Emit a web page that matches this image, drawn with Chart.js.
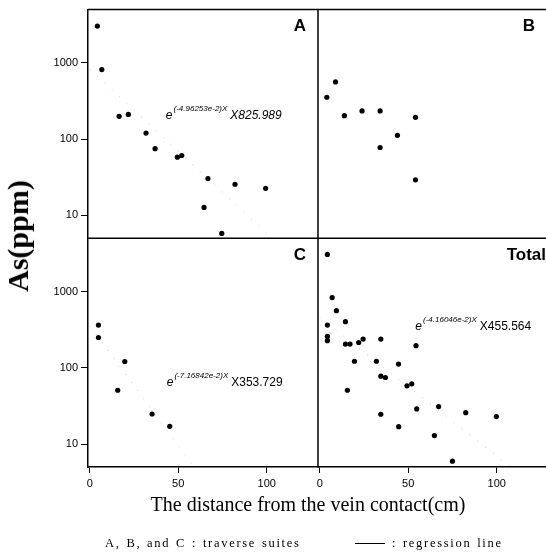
<!DOCTYPE html>
<html>
<head>
<meta charset="utf-8">
<script src="https://cdn.jsdelivr.net/npm/chart.js@4.4.1/dist/chart.umd.min.js"></script>
<style>
    body { margin: 0; background: #fff; }
    #wrap { position: relative; width: 546px; height: 555px; overflow: hidden; background: #fff; }
    #plot { position: absolute; left: 0; top: 0; }
    .yTitle {
        position: absolute; left: 18px; top: 236px;
        transform: translate(-50%, -50%) rotate(-90deg);
        font: bold 30px "Liberation Serif", "Times New Roman", serif;
        white-space: nowrap;
    }
    .xTitle {
        position: absolute; left: 308px; top: 504px;
        transform: translate(-50%, -50%);
        font: 20px "Liberation Serif", "Times New Roman", serif;
        white-space: nowrap;
    }
    .note {
        position: absolute; top: 543px;
        transform: translateY(-50%);
        font: 12.5px "Liberation Serif", "Times New Roman", serif;
        letter-spacing: 1.7px; word-spacing: 1px;
        white-space: nowrap;
    }
    .regKey { position: absolute; left: 355px; top: 543px; width: 30px; border-top: 1px solid #000; }
</style>
</head>
<body>
<div id="wrap">
    <canvas id="plot" width="552" height="555"></canvas>
    <div class="yTitle">As(ppm)</div>
    <div class="xTitle">The distance from the vein contact(cm)</div>
    <div class="note" style="left:105px">A, B, and C : traverse suites</div>
    <div class="regKey"></div>
    <div class="note" style="left:392px">: regression line</div>
</div>
<script>
// tick labels
const xTicks = [0, 50, 100];
const yTicks = [10, 100, 1000];

// traverse suite A
const distA = [4.3, 6.8, 16.6, 21.8, 31.8, 36.9, 49.5, 52, 66.8, 64.6, 74.6, 82.1, 99.4];
const asA = [3040, 816, 199, 211, 120, 75, 58, 61, 30.4, 12.7, 5.8, 25.6, 22.6];

// traverse suite B
const distB = [4.0, 8.9, 13.9, 23.9, 34.1, 54.1, 43.9, 34.1, 54.1];
const asB = [354, 562, 203, 234, 234, 193, 112, 77.6, 29.2];

// traverse suite C
const distC = [4.9, 4.9, 19.8, 15.8, 35.2, 45.2];
const asC = [364, 250, 121, 50.8, 24.8, 17.1];

// all suites together
const distT = [4.3, 7.0, 9.4, 4.3, 4.3, 4.3, 14.5, 14.5, 17.1, 22.0, 24.5, 34.5, 54.4, 19.6, 32.0,
               44.5, 34.5, 37.1, 49.3, 52.0, 15.6, 67.2, 54.8, 82.5, 99.8, 34.5, 44.6, 64.8, 75.0];
const asT = [3070, 834, 562, 364, 258, 227, 403, 205, 205, 215, 238, 238, 195, 122, 122,
             112, 77.7, 74.6, 58, 61.6, 50.8, 31, 28.9, 25.8, 22.9, 24.6, 16.9, 12.9, 5.97];

// regression line end points (x, ppm)
const regA = [[0, 826], [103, 5]];
const regC = [[0, 354], [59, 5]];
const regT = [[0, 456], [108, 5]];

// equation text per panel
const equations = [
    { xAxis: 'xL', yAxis: 'yT', x: 43, y: 183, sup: '(-4.96253e-2)X', text: 'X825.989', italic: true },
    { xAxis: 'xL', yAxis: 'yB', x: 43.5, y: 58, sup: '(-7.16842e-2)X', text: 'X353.729', italic: false },
    { xAxis: 'xR', yAxis: 'yB', x: 54, y: 316, sup: '(-4.16046e-2)X', text: 'X455.564', italic: false }
];

const panelLabels = [
    { xAxis: 'xL', yAxis: 'yT', text: 'A', inset: 12 },
    { xAxis: 'xR', yAxis: 'yT', text: 'B', inset: 13 },
    { xAxis: 'xL', yAxis: 'yB', text: 'C', inset: 12 },
    { xAxis: 'xR', yAxis: 'yB', text: 'Total', inset: 2 }
];

const SANS = '"Liberation Sans", Arial, sans-serif';

function toPoints(xs, ys) {
    return xs.map((x, i) => ({ x: x, y: ys[i] }));
}

function pairPoints(pairs) {
    return pairs.map(p => ({ x: p[0], y: p[1] }));
}

function dots(xs, ys, xAxis, yAxis) {
    return {
        type: 'scatter',
        data: toPoints(xs, ys),
        xAxisID: xAxis,
        yAxisID: yAxis,
        pointRadius: 2.6,
        pointBackgroundColor: '#000',
        pointBorderWidth: 0
    };
}

function regLine(pairs, xAxis, yAxis) {
    return {
        type: 'line',
        data: pairPoints(pairs),
        xAxisID: xAxis,
        yAxisID: yAxis,
        borderColor: 'rgba(0,0,0,0.22)',
        borderWidth: 1,
        borderDash: [1, 9],
        pointRadius: 0,
        fill: false
    };
}

function xScale() {
    return {
        type: 'linear',
        position: 'bottom',
        stack: 'x',
        min: -1,
        max: 129,
        afterBuildTicks: function(s) { s.ticks = xTicks.map(v => ({ value: v })); },
        afterFit: function(s) { s.height = 30; },
        grid: { drawOnChartArea: false, drawTicks: true, tickLength: 6, color: '#000', lineWidth: 1 },
        border: { display: true, color: '#000', width: 1.5 },
        ticks: { color: '#000', font: { family: SANS, size: 11 }, padding: 4, maxRotation: 0, autoSkip: false }
    };
}

function yScale(weight) {
    return {
        type: 'logarithmic',
        position: 'left',
        stack: 'y',
        weight: weight,
        min: 5,
        max: 5000,
        afterBuildTicks: function(s) { s.ticks = yTicks.map(v => ({ value: v })); },
        afterFit: function(s) { s.width = 60; },
        grid: { drawOnChartArea: false, drawTicks: true, tickLength: 7, color: '#000', lineWidth: 1 },
        border: { display: true, color: '#000', width: 1.5 },
        ticks: {
            color: '#000', font: { family: SANS, size: 11 }, padding: 3, autoSkip: false,
            callback: function(value) { return String(value); }
        }
    };
}

// frame lines, panel letters and the fitted equations
const panelPlugin = {
    id: 'panels',
    afterDraw(chart) {
        const ctx = chart.ctx;
        const s = chart.scales;
        ctx.save();
        ctx.strokeStyle = '#000';
        ctx.lineWidth = 1.5;
        ctx.beginPath();
        ctx.moveTo(s.xL.left, s.yT.top);
        ctx.lineTo(s.xR.right, s.yT.top);
        ctx.moveTo(s.xL.left, s.yB.top);
        ctx.lineTo(s.xR.right, s.yB.top);
        ctx.moveTo(s.xR.left, s.yT.top);
        ctx.lineTo(s.xR.left, s.yB.bottom);
        ctx.stroke();

        ctx.fillStyle = '#000';
        ctx.textAlign = 'right';
        ctx.textBaseline = 'middle';
        ctx.font = 'bold 17px ' + SANS;
        panelLabels.forEach(function(p) {
            ctx.fillText(p.text, s[p.xAxis].right - p.inset, s[p.yAxis].top + 17);
        });

        ctx.textAlign = 'left';
        ctx.textBaseline = 'alphabetic';
        equations.forEach(function(e) {
            const px = s[e.xAxis].getPixelForValue(e.x);
            const py = s[e.yAxis].getPixelForValue(e.y);
            ctx.font = 'italic 12px ' + SANS;
            ctx.fillText('e', px, py);
            let cx = px + ctx.measureText('e').width + 1;
            ctx.font = 'italic 8px ' + SANS;
            ctx.fillText(e.sup, cx, py - 8);
            cx += ctx.measureText(e.sup).width + 3;
            ctx.font = (e.italic ? 'italic ' : '') + '12px ' + SANS;
            ctx.fillText(e.text, cx, py);
        });
        ctx.restore();
    }
};

const chart = new Chart(document.getElementById('plot').getContext('2d'), {
    type: 'scatter',
    data: {
        datasets: [
            dots(distA, asA, 'xL', 'yT'),
            dots(distB, asB, 'xR', 'yT'),
            dots(distC, asC, 'xL', 'yB'),
            dots(distT, asT, 'xR', 'yB'),
            regLine(regA, 'xL', 'yT'),
            regLine(regC, 'xL', 'yB'),
            regLine(regT, 'xR', 'yB')
        ]
    },
    options: {
        responsive: false,
        animation: false,
        layout: { padding: { left: 28, top: 6, right: 0, bottom: 58 } },
        plugins: { legend: { display: false }, tooltip: { enabled: false } },
        scales: {
            xL: xScale(),
            xR: xScale(),
            yT: yScale(2),
            yB: yScale(1)
        }
    },
    plugins: [panelPlugin]
});
</script>
</body>
</html>
